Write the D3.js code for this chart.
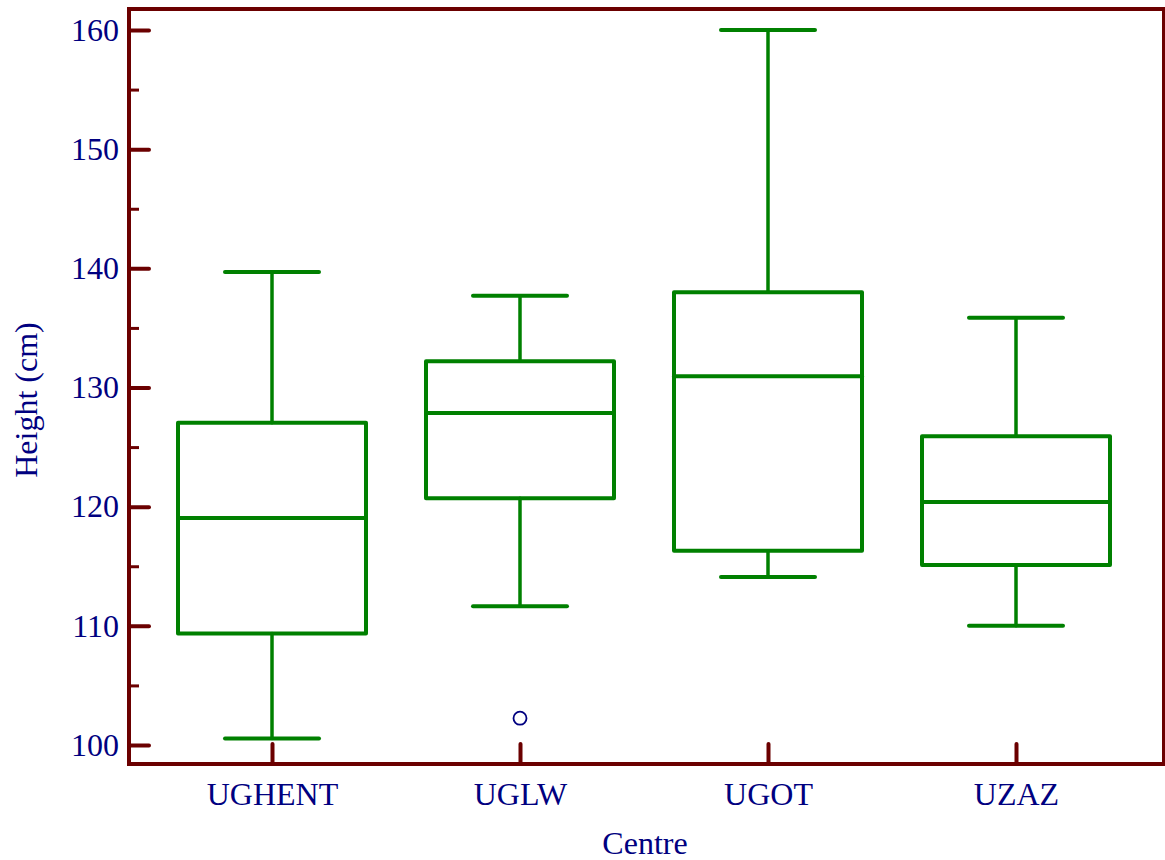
<!DOCTYPE html>
<html>
<head>
<meta charset="utf-8">
<script src="https://cdn.jsdelivr.net/npm/d3@7"></script>
<style>
  body { margin: 0; background: #fff; }
  text { font-family: "Liberation Serif", "Times New Roman", serif; fill: #000080; }
</style>
</head>
<body>
<div id="chart"></div>
<script>
// data
const centres = ["UGHENT", "UGLW", "UGOT", "UZAZ"]
const whiskerLow = [100.55, 111.65, 114.1, 110.0]
const q1 = [109.35, 120.7, 116.3, 115.1]
const median = [119.05, 127.85, 130.95, 120.4]
const q3 = [127.05, 132.2, 138.0, 125.9]
const whiskerHigh = [139.7, 137.7, 160.0, 135.85]
const outliers = [{ centre: "UGLW", value: 102.25 }]
const yMajor = [100, 110, 120, 130, 140, 150, 160]
const yMinor = [105, 115, 125, 135, 145, 155]

const W = 1165, H = 860
const FRAME = { LEFT: 129, TOP: 9, RIGHT: 1164, BOTTOM: 764 }
const GREEN = "#008000", RED = "#6b0000"

const svg = d3.select("#chart").append("svg")
  .attr("width", W)
  .attr("height", H)

// scales
const x = d3.scalePoint().domain(centres).range([272, 1016])
const y = d3.scaleLinear().domain([100, 160]).range([745, 30])

const boxHalf = 94
const capHalf = 47

const boxes = centres.map((c, i) => ({
  c, lo: whiskerLow[i], q1: q1[i], med: median[i], q3: q3[i], hi: whiskerHigh[i]
}))

const g = svg.append("g")

const b = g.selectAll(".box").data(boxes).enter().append("g")
  .attr("class", "box")
  .attr("stroke", GREEN)
  .attr("fill", "none")
  .attr("stroke-linecap", "round")

// whiskers
b.append("line")
  .attr("x1", d => x(d.c)).attr("x2", d => x(d.c))
  .attr("y1", d => y(d.hi)).attr("y2", d => y(d.q3))
  .attr("stroke-width", 3.5)
b.append("line")
  .attr("x1", d => x(d.c)).attr("x2", d => x(d.c))
  .attr("y1", d => y(d.q1)).attr("y2", d => y(d.lo))
  .attr("stroke-width", 3.5)
b.append("line")
  .attr("x1", d => x(d.c) - capHalf).attr("x2", d => x(d.c) + capHalf)
  .attr("y1", d => y(d.hi)).attr("y2", d => y(d.hi))
  .attr("stroke-width", 4)
b.append("line")
  .attr("x1", d => x(d.c) - capHalf).attr("x2", d => x(d.c) + capHalf)
  .attr("y1", d => y(d.lo)).attr("y2", d => y(d.lo))
  .attr("stroke-width", 4)

// box + median
b.append("rect")
  .attr("x", d => x(d.c) - boxHalf)
  .attr("width", boxHalf * 2)
  .attr("y", d => y(d.q3))
  .attr("height", d => y(d.q1) - y(d.q3))
  .attr("stroke-width", 4)
  .attr("stroke-linejoin", "round")
b.append("line")
  .attr("x1", d => x(d.c) - boxHalf).attr("x2", d => x(d.c) + boxHalf)
  .attr("y1", d => y(d.med)).attr("y2", d => y(d.med))
  .attr("stroke-width", 4)

// outliers
g.selectAll(".outlier").data(outliers).enter().append("circle")
  .attr("class", "outlier")
  .attr("cx", d => x(d.centre))
  .attr("cy", d => y(d.value))
  .attr("r", 6.5)
  .attr("fill", "none")
  .attr("stroke", "#000080")
  .attr("stroke-width", 1.8)

// frame
svg.append("rect")
  .attr("x", FRAME.LEFT).attr("y", FRAME.TOP)
  .attr("width", FRAME.RIGHT - FRAME.LEFT)
  .attr("height", FRAME.BOTTOM - FRAME.TOP)
  .attr("fill", "none")
  .attr("stroke", RED)
  .attr("stroke-width", 4)

// y axis, ticks pointing inward
const yAxis = svg.append("g")
  .attr("transform", `translate(${FRAME.LEFT}, 0)`)
  .call(d3.axisLeft(y).tickValues(yMajor).tickSize(-20).tickPadding(10))
yAxis.select(".domain").remove()
yAxis.selectAll(".tick line").attr("stroke", RED).attr("stroke-width", 4).attr("stroke-linecap", "round")
yAxis.selectAll(".tick text")
  .attr("font-size", "32px")
  .attr("fill", "#000080")

const yMinorAxis = svg.append("g")
  .attr("transform", `translate(${FRAME.LEFT}, 0)`)
  .call(d3.axisLeft(y).tickValues(yMinor).tickSize(-10).tickFormat(""))
yMinorAxis.select(".domain").remove()
yMinorAxis.selectAll(".tick line").attr("stroke", RED).attr("stroke-width", 3)

// x axis, ticks pointing inward
const xAxis = svg.append("g")
  .attr("transform", `translate(0, ${FRAME.BOTTOM})`)
  .call(d3.axisBottom(x).tickSize(-20).tickPadding(18))
xAxis.select(".domain").remove()
xAxis.selectAll(".tick line").attr("stroke", RED).attr("stroke-width", 4).attr("stroke-linecap", "round")
xAxis.selectAll(".tick text")
  .attr("font-size", "32px")
  .attr("fill", "#000080")

// axis labels
svg.append("text")
  .attr("x", 645)
  .attr("y", 854)
  .attr("text-anchor", "middle")
  .attr("font-size", "32px")
  .text("Centre")

svg.append("text")
  .attr("transform", "translate(37, 400) rotate(-90)")
  .attr("text-anchor", "middle")
  .attr("font-size", "32px")
  .text("Height (cm)")
</script>
</body>
</html>
